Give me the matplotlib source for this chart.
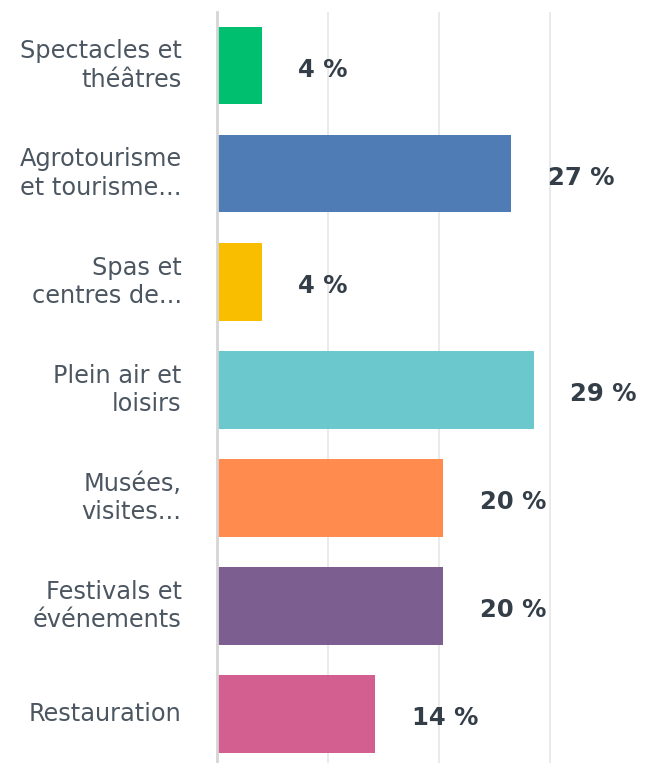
import matplotlib
matplotlib.use("Agg")
import matplotlib.pyplot as plt

categories = ["Spectacles et\nthéâtres", "Agrotourisme\net tourisme...", "Spas et\ncentres de...",
              "Plein air et\nloisirs", "Musées,\nvisites...", "Festivals et\névénements", "Restauration"]
values = [4.08, 26.53, 4.08, 28.57, 20.41, 20.41, 14.29]
value_labels = ["4 %", "27 %", "4 %", "29 %", "20 %", "20 %", "14 %"]
colors = ["#00bf6f", "#507cb6", "#f9be00", "#6bc8cd", "#ff8b4f", "#7d5e90", "#d25f90"]
xticks = [0, 10, 20, 30]

W, H = 658, 763
fig = plt.figure(figsize=(W / 100, H / 100), dpi=100)
left = 216.7 / W
top_px = 11.5
ax = fig.add_axes([left, 0, 1 - left, 1 - top_px / H])

ypos = list(range(len(categories)))
ax.barh(ypos, values, height=0.72, color=colors, zorder=3)
ax.set_ylim(6.455, -0.5)
ax.set_xlim(0, 39.72)
ax.set_xticks(xticks)
ax.xaxis.grid(True, color="#e6e6e6", linewidth=1.2, zorder=0)
ax.tick_params(axis="x", length=0, labelbottom=False)
ax.set_yticks([])
for s in ["top", "right", "bottom"]:
    ax.spines[s].set_visible(False)
ax.spines["left"].set_color("#d5d5d5")
ax.spines["left"].set_linewidth(2)
ax.spines["left"].set_zorder(4)

for y, cat in zip(ypos, categories):
    ax.annotate(cat, xy=(0, y), xytext=(-25.2, 0), textcoords="offset points",
                ha="right", va="center", fontsize=17.3, color="#4b5661",
                family="DejaVu Sans", linespacing=1.22, multialignment="right")

for y, v, lab in zip(ypos, values, value_labels):
    ax.annotate(lab, xy=(v, y), xytext=(26, -3), textcoords="offset points",
                ha="left", va="center", fontsize=17.5, fontweight="bold",
                color="#333e48", family="DejaVu Sans")

fig.savefig("out.png", dpi=100)
